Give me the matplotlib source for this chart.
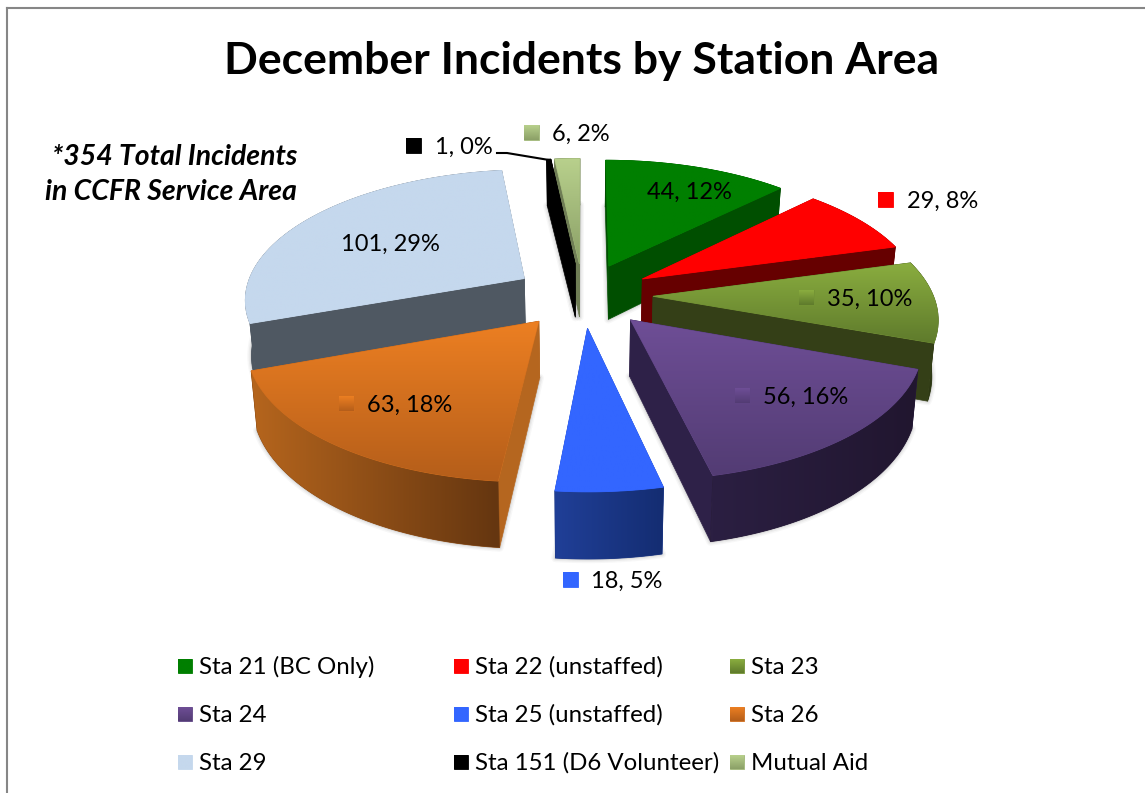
import numpy as np
import matplotlib
matplotlib.use('Agg')
import matplotlib.pyplot as plt
from matplotlib.colors import LinearSegmentedColormap
from matplotlib.patches import Polygon

plt.rcParams['font.family'] = ['Lato', 'DejaVu Sans']

# dados
estacoes = ['Sta 21 (BC Only)', 'Sta 22 (unstaffed)', 'Sta 23',
            'Sta 24', 'Sta 25 (unstaffed)', 'Sta 26',
            'Sta 29', 'Sta 151 (D6 Volunteer)', 'Mutual Aid']
incidentes = [44, 29, 35, 56, 18, 63, 101, 1, 6]
titulo = 'December Incidents by Station Area'
nota = '*354 Total Incidents\nin CCFR Service Area'

# cores: topo (claro, escuro), parede radial, parede externa (esq, dir)
topo_a = ['#007f00', '#ff0000', '#8aad3f', '#6e4e96', '#3366ff', '#ec7f22', '#c5d8ed', '#000000', '#b8d08c']
topo_b = ['#007f00', '#ff0000', '#5f7b2c', '#533c74', '#3366ff', '#b55e1a', '#c5d8ed', '#000000', '#8ba067']
radial = ['#004f00', '#660000', '#343f17', '#2e2148', '#1c3a8f', '#b5661f', '#4f5862', '#000000', '#6f7d55']
rim_a = ['#004f00', '#660000', '#343f17', '#2b1f42', '#203f97', '#b5651d', '#4f5862', '#000000', '#6f7d55']
rim_b = ['#004f00', '#660000', '#2b3513', '#21162f', '#142d72', '#653610', '#4f5862', '#000000', '#6f7d55']

# posicao dos rotulos: quadrado x, texto x, y
rot_q = [625, 885, 806, 742, 570, 346, 320, 413, 531]
rot_t = [647, 907, 827, 763, 591, 367, 341, 435, 552]
rot_y = [192, 201, 299, 397, 581, 405, 244, 147, 134]

# parametros da pizza 3D
cx, cy = 583, 295
Rx, Ry = 280, 129
persp = 0.145
altura = 55
conv = 0.018  # as paredes convergem para baixo
explode = 0.25


def projeta(u, v, z=0):
    f = 1 / (1 + persp * v)
    return cx + Rx * u * f * (1 - conv * z), cy - Ry * v * f + altura * z * f


def gradiente(ax, pts, c0, c1, horizontal, zorder):
    pts = np.array(pts)
    x0, y0 = pts.min(axis=0)
    x1, y1 = pts.max(axis=0)
    cmap = LinearSegmentedColormap.from_list('g', [c0, c1])
    g = np.linspace(0, 1, 64)
    g = g.reshape(1, -1) if horizontal else g.reshape(-1, 1)
    # fundo com a cor media para suavizar o recorte
    ax.add_patch(Polygon(pts, closed=True, fc=cmap(0.5), ec=cmap(0.5), lw=0.6, zorder=zorder - 0.5))
    im = ax.imshow(g, cmap=cmap, extent=(x0, x1, y1, y0), aspect='auto',
                   vmin=0, vmax=1, zorder=zorder, interpolation='bilinear')
    pol = Polygon(pts, closed=True, transform=ax.transData, fc='none', ec='none')
    ax.add_patch(pol)
    im.set_clip_path(pol)


fig = plt.figure(figsize=(11.45, 7.93), dpi=100)
ax = fig.add_axes([0, 0, 1, 1])

total = sum(incidentes)
limites = np.cumsum([0] + incidentes) / total * 2 * np.pi
ordem = [8, 7, 0, 6, 1, 2, 5, 3, 4]

z = 2
for i in ordem:
    a0, a1 = limites[i], limites[i + 1]
    meio = (a0 + a1) / 2
    du, dv = explode * np.sin(meio), explode * np.cos(meio)
    t = np.linspace(a0, a1, 60)
    us, vs = du + np.sin(t), dv + np.cos(t)

    arco_top = [projeta(a, b, 0) for a, b in zip(us, vs)]
    arco_bot = [projeta(a, b, 1) for a, b in zip(us, vs)]
    apice_top = projeta(du, dv, 0)
    apice_bot = projeta(du, dv, 1)

    # sombra em volta da base
    base = [apice_bot] + arco_bot
    for lw, al in zip([6, 4, 2], [0.04, 0.06, 0.10]):
        ax.add_patch(Polygon(base, closed=True, fc='none', ec='#404040', lw=lw, alpha=al, zorder=z, joinstyle='round'))
    z += 1

    # paredes de tras para frente
    paredes = [(dv + 0.5 * np.cos(a0), 'r0'), (dv + 0.5 * np.cos(a1), 'r1'), (dv + np.cos(meio), 'arc')]
    paredes.sort(key=lambda p: -p[0])
    for _, tipo in paredes:
        if tipo == 'arc':
            gradiente(ax, arco_top + arco_bot[::-1], rim_a[i], rim_b[i], True, z)
        else:
            k = 0 if tipo == 'r0' else -1
            ax.add_patch(Polygon([apice_top, arco_top[k], arco_bot[k], apice_bot], closed=True,
                                 fc=radial[i], ec=radial[i], lw=0.5, zorder=z))
        z += 1

    # topo
    gradiente(ax, [apice_top] + arco_top, topo_a[i], topo_b[i], False, z)
    z += 1

# rotulos de dados
for i, n in enumerate(incidentes):
    q = rot_q[i]
    y = rot_y[i]
    lado = [(q - 7.5, y - 9), (q + 7.5, y - 9), (q + 7.5, y + 6), (q - 7.5, y + 6)]
    gradiente(ax, lado, topo_a[i], topo_b[i], False, z)
    ax.text(rot_t[i], y, '%d, %d%%' % (n, round(100 * n / total)), fontsize=17,
            va='center', ha='left', color='black', zorder=z + 1)

# linha de chamada do rotulo 1, 0%
ax.plot([497, 507, 549], [153, 153, 160], color='black', lw=1.5, zorder=z)

# legenda
leg_x = [185, 461, 737]
leg_y = [666, 714, 762]
for i, nome in enumerate(estacoes):
    x = leg_x[i % 3]
    y = leg_y[i // 3]
    lado = [(x - 7, y - 7), (x + 7, y - 7), (x + 7, y + 7), (x - 7, y + 7)]
    gradiente(ax, lado, topo_a[i], topo_b[i], False, z)
    ax.text(x + 14, y + 8, nome, fontsize=17.3, va='baseline', ha='left', color='black', zorder=z)

ax.text(582, 61, titulo, fontsize=32, fontweight='bold', ha='center', va='center', color='black')
ax.text(297, 174.5, nota, fontsize=20.4, fontweight='bold', fontstyle='italic', ha='right', va='center',
        linespacing=1.42, color='black')

# moldura
ax.plot([7, 7], [793, 8], color='#868686', lw=1.5, zorder=1)
ax.plot([7, 1145], [8, 8], color='#868686', lw=1.5, zorder=1)

ax.set_xlim(0, 1145)
ax.set_ylim(793, 0)
ax.axis('off')

plt.savefig('out.png', dpi=100)
